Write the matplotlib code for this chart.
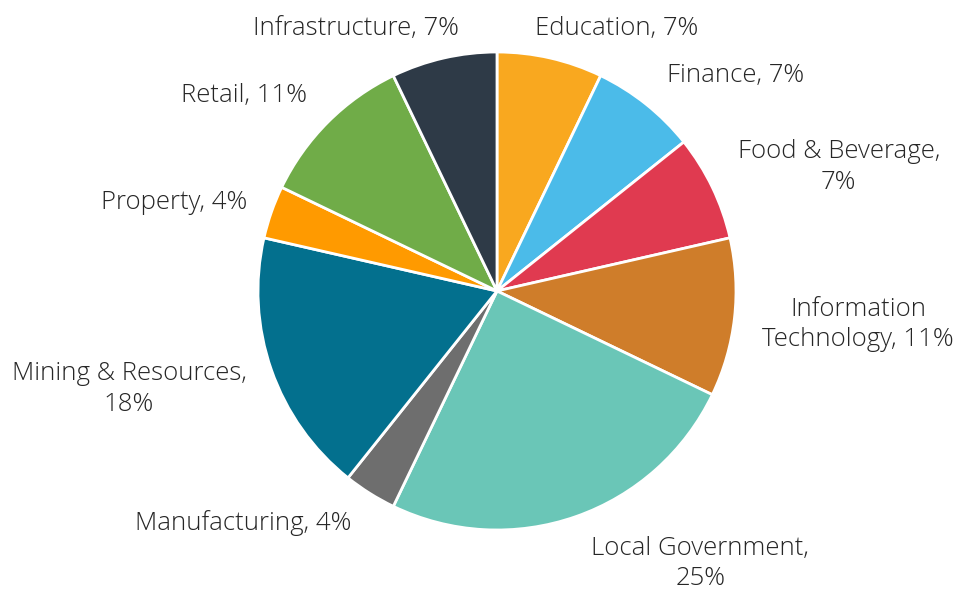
import matplotlib.pyplot as plt
from matplotlib import font_manager

# Sector breakdown (number of clients per sector)
sectors = [
    "Education", "Finance", "Food & Beverage", "Information\nTechnology",
    "Local Government", "Manufacturing", "Mining & Resources", "Property",
    "Retail", "Infrastructure",
]
counts = [2, 2, 2, 3, 7, 1, 5, 1, 3, 2]
colors = [
    "#F9A81F", "#4BBBE9", "#E03A50", "#CF7D2A", "#6AC6B7",
    "#6E6E6E", "#03708E", "#FF9A00", "#70AC48", "#2E3A47",
]
# label layout in pie-radius units; "\n" before the percentage where it wraps
label_pos = [
    (0.50, 1.10), (1.00, 0.90), (1.43, 0.52), (1.51, -0.14), (0.85, -1.14),
    (-1.06, -0.97), (-1.54, -0.41), (-1.35, 0.37), (-1.06, 0.82), (-0.59, 1.10),
]
wrap_pct = [False, False, True, False, True, False, True, False, False, False]

names = [f.name for f in font_manager.fontManager.ttflist]
family = "Open Sans" if "Open Sans" in names else "DejaVu Sans"

W, H, DPI = 962, 591, 100
cx, cy, R = 497, 291, 239

fig = plt.figure(figsize=(W / DPI, H / DPI), dpi=DPI)
ax = fig.add_axes([0, 0, 1, 1])

ax.pie(counts, colors=colors, startangle=90, counterclock=False, radius=1,
       wedgeprops=dict(edgecolor="white", linewidth=2.0))

# pie() resets the limits, so set them afterwards
ax.set_aspect("auto")
ax.set_xlim(-cx / R, (W - cx) / R)
ax.set_ylim(-(H - cy) / R, cy / R)
ax.axis("off")

total = sum(counts)
for name, n, (x, y), wrap in zip(sectors, counts, label_pos, wrap_pct):
    pct = f"{round(100 * n / total)}%"
    text = f"{name},\n{pct}" if wrap else f"{name}, {pct}"
    ax.text(x, y, text, ha="center", va="center", multialignment="center",
            fontsize=18.5, color="#262626", family=family, weight="light",
            linespacing=1.3)

fig.savefig("out.png", dpi=DPI)
